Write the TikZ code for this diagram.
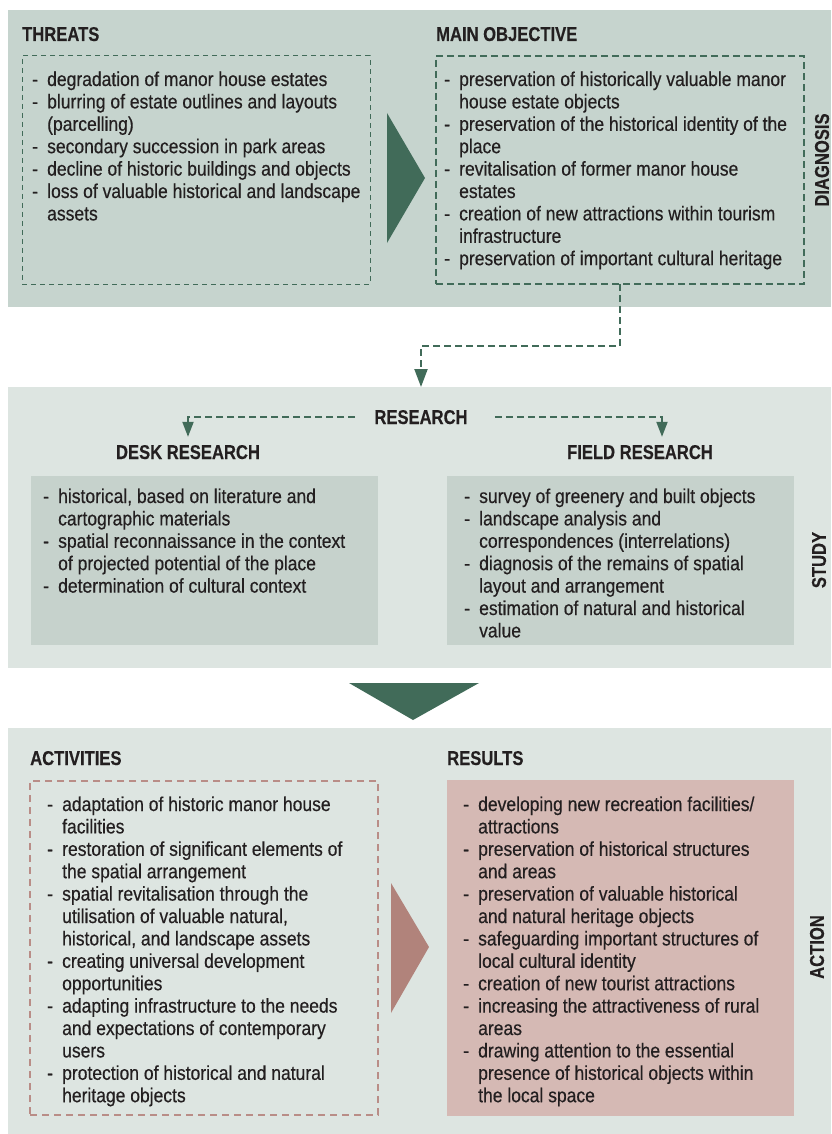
\documentclass[tikz,border=0pt]{standalone}
\usepackage{fontspec}
\setmainfont{Liberation Sans}[FakeStretch=0.875,FakeBold=0.4,
  BoldFeatures={FakeStretch=0.83,FakeBold=0.3}]
\usetikzlibrary{arrows.meta,positioning}

\definecolor{diagbg}{HTML}{C6D4CE}
\definecolor{lightbg}{HTML}{DDE5E1}
\definecolor{deskfill}{HTML}{C6D2CC}
\definecolor{darkgreen}{HTML}{416B59}
\definecolor{rosefill}{HTML}{D5B9B4}
\definecolor{rosedark}{HTML}{B1837B}
\definecolor{roseline}{HTML}{B98D87}
\definecolor{ink}{HTML}{231F20}

% dash in the first column, wrapped lines start in the second
\newcommand\dashlist[1]{\begin{tabular}[t]{@{}p{15pt}@{}l@{}}#1\end{tabular}}

\tikzset{
  band/.style={fill=#1, anchor=north west, inner sep=0, outer sep=0},
  frame/.style={anchor=north west, inner sep=0, outer sep=0},
  head/.style={font=\bfseries, text=ink, inner sep=0},
  side/.style={font=\bfseries, text=ink, rotate=90, inner sep=0},
  items/.style={text=ink, anchor=base west, inner sep=0},
  conn/.style={draw=darkgreen, line width=2.1pt, dash pattern=on 7pt off 4pt,
    -{Triangle[width=13pt,length=18pt]}},
  branch/.style={draw=darkgreen, line width=2pt, dash pattern=on 7pt off 4pt,
    -{Triangle[width=11pt,length=15pt]}},
}

\begin{document}
\fontsize{20}{22.4}\selectfont
\begin{tikzpicture}[x=1pt,y=-1pt]
    \useasboundingbox (0,0) rectangle (831,1134);

    % three stages
    \node[band=diagbg, minimum width=823pt, minimum height=297pt] (diagbg) at (8,10) {};
    \node[band=lightbg, minimum width=823pt, minimum height=281pt] (studybg) at (8,387) {};
    \node[band=lightbg, minimum width=823pt, minimum height=406pt] (actionbg) at (8,728) {};

    % diagnosis
    \node[frame, draw=darkgreen, line width=1pt, dash pattern=on 5pt off 4pt,
        minimum width=348pt, minimum height=228pt] (threats) at (22,56) {};
    \node[frame, draw=darkgreen, line width=2.1pt, dash pattern=on 7pt off 4pt,
        minimum width=368pt, minimum height=228pt] (mainobj) at (436,56) {};
    \fill[darkgreen] (387,113) -- (387,243) -- (425,178) -- cycle;

    \node[head, anchor=base west] (threatshead) at (22,41) {THREATS};
    \node[head, anchor=base west] (mainobjhead) at (436,41) {MAIN OBJECTIVE};
    \node[side] (diagnosis) at (822,160) {DIAGNOSIS};

    \node[items] (threatslist) at (32,86) {\dashlist{
        - & degradation of manor house estates\\
        - & blurring of estate outlines and layouts\\
          & (parcelling)\\
        - & secondary succession in park areas\\
        - & decline of historic buildings and objects\\
        - & loss of valuable historical and landscape\\
          & assets}};
    \node[items] (mainobjlist) at (444,86) {\dashlist{
        - & preservation of historically valuable manor\\
          & house estate objects\\
        - & preservation of the historical identity of the\\
          & place\\
        - & revitalisation of former manor house\\
          & estates\\
        - & creation of new attractions within tourism\\
          & infrastructure\\
        - & preservation of important cultural heritage}};

    % study
    \node[head, anchor=base] (research) at (421,424) {RESEARCH};
    \node[head, anchor=base] (deskhead) at (188,459) {DESK RESEARCH};
    \node[head, anchor=base] (fieldhead) at (640,459) {FIELD RESEARCH};
    \node[side] (study) at (819,560) {STUDY};

    \node[frame, fill=deskfill, minimum width=347pt, minimum height=169pt] (desk) at (31,476) {};
    \node[frame, fill=deskfill, minimum width=347pt, minimum height=169pt] (field) at (447,476) {};

    \node[items] (desklist) at (43,503) {\dashlist{
        - & historical, based on literature and\\
          & cartographic materials\\
        - & spatial reconnaissance in the context\\
          & of projected potential of the place\\
        - & determination of cultural context}};
    \node[items] (fieldlist) at (464,503) {\dashlist{
        - & survey of greenery and built objects\\
        - & landscape analysis and\\
          & correspondences (interrelations)\\
        - & diagnosis of the remains of spatial\\
          & layout and arrangement\\
        - & estimation of natural and historical\\
          & value}};

    \fill[darkgreen] (349,683) -- (479,683) -- (413,720) -- cycle;

    % action
    \node[frame, draw=roseline, line width=1.8pt, dash pattern=on 7pt off 5pt,
        minimum width=348pt, minimum height=334pt] (activities) at (30,781) {};
    \node[frame, fill=rosefill, minimum width=347pt, minimum height=336pt] (results) at (447,780) {};
    \fill[rosedark] (391,883) -- (391,1013) -- (429,947) -- cycle;

    \node[head, anchor=base west] (activitieshead) at (30,765) {ACTIVITIES};
    \node[head, anchor=base west] (resultshead) at (447,765) {RESULTS};
    \node[side] (action) at (817,947) {ACTION};

    \node[items] (activitieslist) at (47,811) {\dashlist{
        - & adaptation of historic manor house\\
          & facilities\\
        - & restoration of significant elements of\\
          & the spatial arrangement\\
        - & spatial revitalisation through the\\
          & utilisation of valuable natural,\\
          & historical, and landscape assets\\
        - & creating universal development\\
          & opportunities\\
        - & adapting infrastructure to the needs\\
          & and expectations of contemporary\\
          & users\\
        - & protection of historical and natural\\
          & heritage objects}};
    \node[items] (resultslist) at (463,811) {\dashlist{
        - & developing new recreation facilities/\\
          & attractions\\
        - & preservation of historical structures\\
          & and areas\\
        - & preservation of valuable historical\\
          & and natural heritage objects\\
        - & safeguarding important structures of\\
          & local cultural identity\\
        - & creation of new tourist attractions\\
        - & increasing the attractiveness of rural\\
          & areas\\
        - & drawing attention to the essential\\
          & presence of historical objects within\\
          & the local space}};

    % connectors
    \draw[conn] (mainobj.south) -- ++(0,62) -| (research |- studybg.north);
    \draw[branch] ([xshift=-19pt]research.west) -| ([yshift=8pt]deskhead.north);
    \draw[branch] ([xshift=27pt]research.east) -| ([xshift=22pt,yshift=8pt]fieldhead.north);
\end{tikzpicture}
\end{document}
